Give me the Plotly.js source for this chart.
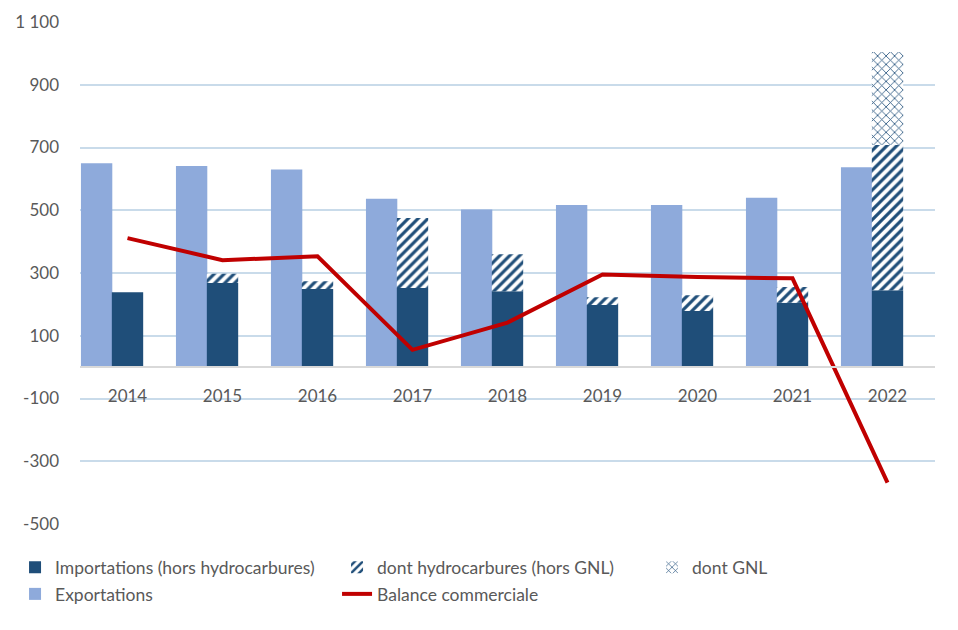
<!DOCTYPE html>
<html>
<head>
<meta charset="utf-8">
<script src="https://cdn.plot.ly/plotly-3.0.1.min.js"></script>
<style>html,body{margin:0;padding:0;background:#fff}#chart{width:958px;height:630px}</style>
</head>
<body>
<div id="chart"></div>
<script>
const years = ['2014','2015','2016','2017','2018','2019','2020','2021','2022'];
const exportations = [650, 641, 630, 537, 502, 517, 517, 540, 637];
const importationsHorsHC = [239, 268, 249, 252, 242, 198, 179, 205, 245];
const hydrocarburesHorsGNL = [0, 30, 25, 223, 118, 25, 50, 50, 463];
const gnl = [0, 0, 0, 0, 0, 0, 0, 0, 296];
const balance = [411, 341, 353, 55, 142, 295, 287, 283, -368];
const yTickVals = [-500, -300, -100, 100, 300, 500, 700, 900, 1100];
const yTickText = ['-500', '-300', '-100', '100', '300', '500', '700', '900', '1 100'];

const dark = '#1f4e79', light = '#8eaadb', red = '#c00000', txt = '#595959';
const font = 'Lato, "Open Sans", sans-serif';
const hcBase = importationsHorsHC.slice();
const gnlBase = importationsHorsHC.map((v, i) => v + hydrocarburesHorsGNL[i]);
const yMin = -500, yMax = 1100;

const traces = [
  {type:'bar', name:'Exportations', x:years, y:exportations, offset:-0.49, width:0.33,
   marker:{color:light, line:{width:0}}, legend:'legend3', legendrank:1, hoverinfo:'skip'},
  {type:'bar', name:'Importations (hors hydrocarbures)', x:years, y:importationsHorsHC, base:0,
   offset:-0.165, width:0.33, marker:{color:dark, line:{width:0}}, legend:'legend', legendrank:1, hoverinfo:'skip'},
  {type:'bar', name:'dont hydrocarbures (hors GNL)', x:years, y:hydrocarburesHorsGNL, base:hcBase,
   offset:-0.165, width:0.33,
   marker:{color:'#ffffff', line:{width:0}, pattern:{shape:'/', fgcolor:dark, bgcolor:'#ffffff', size:7, solidity:0.45}},
   legend:'legend', legendrank:2, hoverinfo:'skip'},
  {type:'bar', name:'dont GNL', x:years, y:gnl, base:gnlBase,
   offset:-0.165, width:0.33,
   marker:{color:'#ffffff', line:{width:0}, pattern:{shape:'x', fgcolor:dark, bgcolor:'#ffffff', size:6, solidity:0.25}},
   legend:'legend2', legendrank:1, hoverinfo:'skip'},
  {type:'scatter', mode:'lines', name:'Balance commerciale', x:years, y:balance,
   line:{color:red, width:4}, legend:'legend3', legendrank:2, hoverinfo:'skip'}
];

const legendBase = {orientation:'h', xref:'container', yref:'container', xanchor:'left', yanchor:'top',
  entrywidth:277, entrywidthmode:'pixels', traceorder:'normal',
  font:{family:font, size:17.5, color:txt}, tracegroupgap:0, bgcolor:'rgba(0,0,0,0)'};

const layout = {
  width:958, height:630,
  margin:{l:80, r:23, t:22, b:106, autoexpand:false},
  paper_bgcolor:'#fff', plot_bgcolor:'#fff',
  font:{family:font, color:txt, size:17},
  barmode:'overlay',
  showlegend:true,
  legend:Object.assign({}, legendBase, {x:0.0157, y:0.128}),
  legend2:Object.assign({}, legendBase, {x:0.6806, y:0.128}),
  legend3:Object.assign({}, legendBase, {x:0.0157, y:0.0857}),
  xaxis:{type:'category', range:[-0.5, 8.5], anchor:'free', position:(0 - yMin)/(yMax - yMin),
         showline:true, linecolor:'#d9d9d9', linewidth:2, showgrid:false, ticks:'',
         tickfont:{family:font, size:17, color:txt}, ticklabelstandoff:13, zeroline:false, fixedrange:true},
  yaxis:{range:[yMin, yMax], tickvals:yTickVals, ticktext:yTickText, showgrid:true,
         gridcolor:'#c9dbea', gridwidth:2, zeroline:false, showline:false, ticks:'',
         ticklabelstandoff:20, tickfont:{family:font, size:17, color:txt}, fixedrange:true}
};

Plotly.newPlot('chart', traces, layout, {displayModeBar:false, staticPlot:true});
</script>
</body>
</html>
